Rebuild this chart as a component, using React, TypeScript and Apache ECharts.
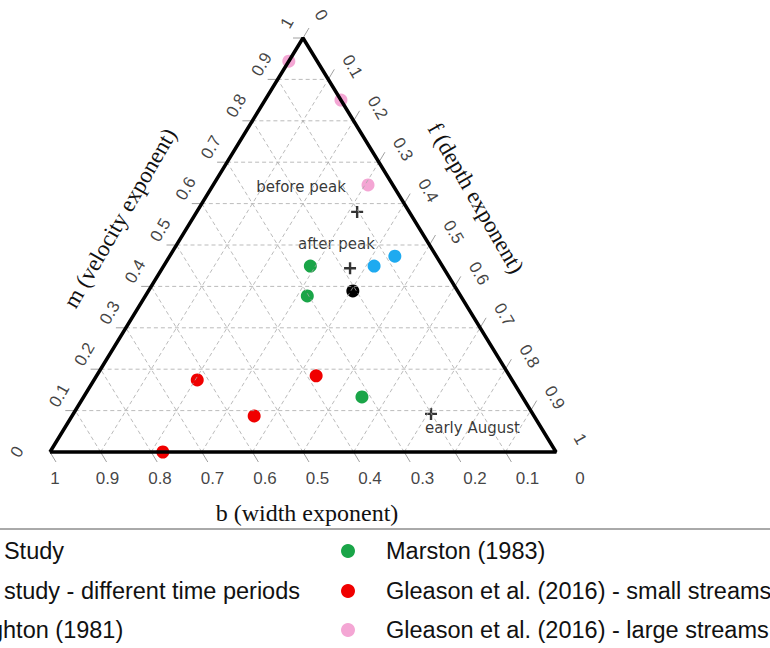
import React, { useEffect, useRef } from "react";
import * as echarts from "echarts";

// ternary points stored as [m, f]; b = 1 - m - f
const gleasonLarge = [[0.944, 0.0], [0.85, 0.15], [0.645, 0.306]];
const knighton = [[0.449, 0.416], [0.473, 0.445]];
const thisStudy = [[0.389, 0.404]];
const marston = [[0.449, 0.29], [0.377, 0.32], [0.133, 0.55]];
const gleasonSmall = [[0.174, 0.204], [0.184, 0.434], [0.087, 0.36], [0.0, 0.223]];
const periods = [[0.58, 0.317], [0.444, 0.371], [0.092, 0.707]];
const periodNames = ["before peak", "after peak", "early August"];
const ticks = [0, 0.1, 0.2, 0.3, 0.4, 0.5, 0.6, 0.7, 0.8, 0.9, 1];
const tickLabels = ["0", "0.1", "0.2", "0.3", "0.4", "0.5", "0.6", "0.7", "0.8", "0.9", "1"];

const W = 506, H = 414;
const xy = (m: number, f: number) => [f + m / 2, m];
const px = (dx: number) => dx / W;
const py = (dy: number) => -dy / H;

export default function App() {
  const ref = useRef<HTMLDivElement | null>(null);
  useEffect(() => {
    document.body.style.margin = "0";
    if (!ref.current) return;
    const chart = echarts.init(ref.current, null, { renderer: "svg" });

    const grid: any[] = [];
    ticks.slice(1, -1).forEach((t) => {
      grid.push([xy(t, 0), xy(t, 1 - t)]); // constant m
      grid.push([xy(0, t), xy(1 - t, t)]); // constant f
      grid.push([xy(0, 1 - t), xy(1 - t, 0)]); // constant b
    });
    const gridSeries = grid.map((seg) => ({
      type: "line", data: seg, symbol: "none", silent: true,
      lineStyle: { color: "#aaa", width: 0.8, type: [4, 3] },
    }));
    const tickSeg: any[] = [];
    ticks.forEach((t) => {
      const a = xy(t, 0);
      tickSeg.push([a, [a[0] - px(10), a[1]]]);
      const b = xy(0, 1 - t);
      tickSeg.push([b, [b[0] + px(6), b[1] + py(10)]]);
      const c = xy(1 - t, t);
      tickSeg.push([c, [c[0] + px(6), c[1] + py(-10)]]);
    });
    const tickSeries = tickSeg.map((seg) => ({
      type: "line", data: seg, symbol: "none", silent: true, clip: false,
      lineStyle: { color: "#888", width: 0.8 },
    }));

    const labelPts = (pts: number[][], rot: number) => ({
      type: "scatter", symbolSize: 0, silent: true, clip: false,
      data: pts.map((p, i) => ({ value: p, label: { formatter: tickLabels[i] } })),
      label: { show: true, position: "inside", rotate: rot, fontSize: 17, fontFamily: "Liberation Sans", color: "#111" },
    });

    const mLabelPos = ticks.map((t) => { const p = xy(t, 0); return [p[0] + px(-16), p[1] + py(-15)]; });
    mLabelPos[0] = [px(-33), 0];
    const bLabelPos = ticks.map((t) => { const p = xy(0, 1 - t); return [p[0] + px(5 + 19 * (1 - t)), p[1] + py(26)]; });
    const fLabelPos = ticks.map((t) => { const p = xy(1 - t, t); return [p[0] + px(24), p[1] + py(-13)]; });
    fLabelPos[0] = [0.5 + px(18), 1 + py(-23)];

    const sc = (data: number[][], color: string) => ({
      type: "scatter", data: data.map((d) => xy(d[0], d[1])), symbolSize: 13, clip: false,
      itemStyle: { color, opacity: 1 },
    });

    const annPos = [[-95, -26], [-46, -26], [0, 13]];

    chart.setOption({
      animation: false,
      grid: { left: 50, top: 38, width: W, height: H },
      xAxis: { type: "value", min: 0, max: 1, show: false },
      yAxis: { type: "value", min: 0, max: 1, show: false },
      series: [
        ...gridSeries,
        ...tickSeries,
        {
          type: "line", data: [[0, 0], [1, 0], [0.5, 1], [0, 0]], symbol: "none", silent: true, clip: false,
          lineStyle: { color: "#000", width: 3.5 },
        },
        sc(gleasonLarge, "#f4a6d4"),
        sc(knighton, "#1eaaf0"),
        sc(thisStudy, "#000"),
        sc(marston, "#1aa548"),
        sc(gleasonSmall, "#f00000"),
        {
          type: "scatter", symbol: "path://M4,0H6V4H10V6H6V10H4V6H0V4H4Z", symbolSize: 12, clip: false,
          itemStyle: { color: "#000" },
          data: periods.map((d, i) => ({
            value: xy(d[0], d[1]),
            label: {
              show: true, formatter: periodNames[i], fontSize: 15, color: "#000", fontFamily: "DejaVu Sans",
              position: annPos[i],
            },
          })),
        },
        labelPts(mLabelPos, 60),
        labelPts(bLabelPos, 0),
        labelPts(fLabelPos, -60),
      ],
      graphic: [
        { type: "text", x: 307, y: 513, style: { text: "b (width exponent)", font: "24px 'Liberation Serif'", textAlign: "center", textVerticalAlign: "middle", fill: "#111" } },
        { type: "text", x: 120, y: 218, rotation: Math.PI / 3, style: { text: "m (velocity exponent)", font: "23px 'Liberation Serif'", textAlign: "center", textVerticalAlign: "middle", fill: "#111" } },
        { type: "text", x: 476, y: 198, rotation: -Math.PI / 3, style: { text: "f (depth exponent)", font: "23px 'Liberation Serif'", textAlign: "center", textVerticalAlign: "middle", fill: "#111" } },
        { type: "line", shape: { x1: 0, y1: 529, x2: 770, y2: 529 }, style: { stroke: "#555", lineWidth: 1 } },
        ...["This Study", "This study - different time periods", "Knighton (1981)"].map((s, i) => ({
          type: "text", x: [-47, -47, -44][i], y: [551, 591, 630][i], style: { text: s, font: "23.5px 'Liberation Sans'", textVerticalAlign: "middle", fill: "#111" },
        })),
        ...[["Marston (1983)", "#1aa548", 551], ["Gleason et al. (2016) - small streams", "#f00000", 591], ["Gleason et al. (2016) - large streams", "#f4a6d4", 630]].map((r: any) => ({
          type: "group", children: [
            { type: "circle", shape: { cx: 348, cy: r[2], r: 7 }, style: { fill: r[1] } },
            { type: "text", x: 386, y: r[2], style: { text: r[0], font: "23.5px 'Liberation Sans'", textVerticalAlign: "middle", fill: "#111" } },
          ],
        })),
      ],
    });
    return () => chart.dispose();
  }, []);
  return <div ref={ref} style={{ width: 770, height: 648 }} />;
}
